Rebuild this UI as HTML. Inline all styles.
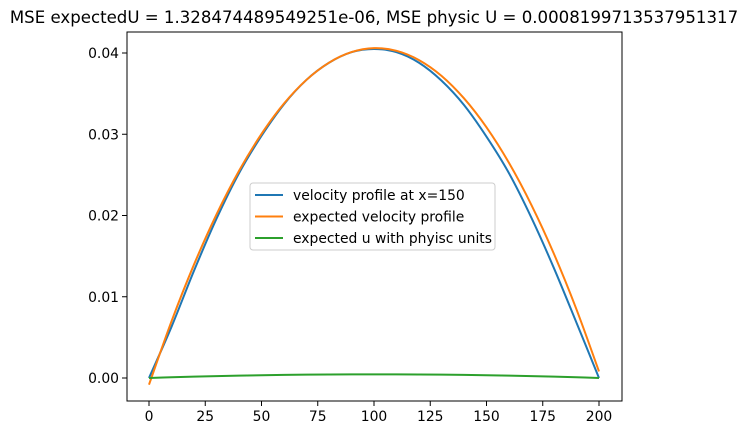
<!DOCTYPE html>
<html><head><meta charset="utf-8"><style>
body{margin:0;background:#fff;}
svg{display:block;font-family:"DejaVu Sans","Liberation Sans",sans-serif;}
</style></head><body>
<svg id="chart" width="747" height="435" viewBox="0 0 747 435"></svg>
<script>
const xValues=[0,10,20,30,40,50,60,70,80,90,100,110,120,130,140,150,160,170,180,190,200];
const bluePoints=[0,0.0063,0.0132,0.0196,0.0252,0.0298,0.0337,0.0367,0.0388,0.0401,0.0405,0.0401,0.0388,0.0366,0.0336,0.0297,0.0252,0.0197,0.0135,0.0068,0];
const orangePoints=[-0.00082,0.00698,0.01396,0.02013,0.02549,0.03004,0.03378,0.0367,0.03881,0.04011,0.0406,0.04027,0.03913,0.03719,0.03442,0.03085,0.02647,0.02127,0.01526,0.00844,0.00081];
const greenPoints=[0,0.000086,0.000162,0.000229,0.000288,0.000338,0.000378,0.00041,0.000432,0.000446,0.00045,0.000446,0.000432,0.00041,0.000378,0.000338,0.000288,0.000229,0.000162,0.000086,0];
const xTicks=[0,25,50,75,100,125,150,175,200];
const yTicks=[0,0.01,0.02,0.03,0.04];
const yTickLabels=["0.00","0.01","0.02","0.03","0.04"];
const seriesNames=["velocity profile at x=150","expected velocity profile","expected u with phyisc units"];

const NS="http://www.w3.org/2000/svg";
const svg=document.getElementById('chart');
const L=127,R=622,T=32,B=401;
const sx=v=>149+(v/200)*(599-149);
const sy=v=>378-v*(378-53)/0.04;
function mk(tag,attrs,parent){const e=document.createElementNS(NS,tag);for(const k in attrs)e.setAttribute(k,attrs[k]);(parent||svg).appendChild(e);return e;}

const title=mk('text',{x:374,y:23,'text-anchor':'middle','font-size':'16.6'});


title.textContent="MSE expectedU = 1.328474489549251e-06, MSE physic U = 0.0008199713537951317";

xTicks.forEach(t=>{
  const l=mk('line',{x1:sx(t),x2:sx(t),y1:B,y2:B+5,stroke:'#000','stroke-width':1});
  
  
  const tx=mk('text',{x:sx(t),y:B+20,'text-anchor':'middle','font-size':'13.9'});
  
  
  tx.textContent=t;
});
yTicks.forEach((t,i)=>{
  const l=mk('line',{x1:L-5,x2:L,y1:sy(t),y2:sy(t),stroke:'#000','stroke-width':1});
  
  
  const tx=mk('text',{x:L-8,y:sy(t)+5,'text-anchor':'end','font-size':'13.9'});
  
  
  tx.textContent=yTickLabels[i];
});

function smooth(pts){
  let d='M'+pts[0][0].toFixed(2)+','+pts[0][1].toFixed(2);
  for(let i=0;i<pts.length-1;i++){
    const p0=pts[Math.max(0,i-1)],p1=pts[i],p2=pts[i+1],p3=pts[Math.min(pts.length-1,i+2)];
    const c1x=p1[0]+(p2[0]-p0[0])/6,c1y=p1[1]+(p2[1]-p0[1])/6;
    const c2x=p2[0]-(p3[0]-p1[0])/6,c2y=p2[1]-(p3[1]-p1[1])/6;
    d+=' C'+c1x.toFixed(2)+','+c1y.toFixed(2)+' '+c2x.toFixed(2)+','+c2y.toFixed(2)+' '+p2[0].toFixed(2)+','+p2[1].toFixed(2);
  }
  return d;
}
const colors=['#1f77b4','#ff7f0e','#2ca02c'];
[bluePoints,orangePoints,greenPoints].forEach((arr,si)=>{
  const pts=arr.map((v,i)=>[sx(xValues[i]),sy(v)]);
  const p=mk('path',{d:smooth(pts),fill:'none',stroke:colors[si],'stroke-width':2,'stroke-linejoin':'round'});
  
  
});

const frame=mk('rect',{x:L,y:T,width:R-L,height:B-T,fill:'none',stroke:'#000','stroke-width':1});



const lg=mk('g',{});


mk('rect',{x:250,y:183,width:245,height:67,rx:3,fill:'#fff','fill-opacity':0.8,stroke:'#ccc','stroke-width':1},lg);
seriesNames.forEach((n,i)=>{
  const y=195+i*21.5;
  const g=mk('g',{},lg);
  
  
  mk('line',{x1:255,x2:283,y1:y,y2:y,stroke:colors[i],'stroke-width':2},g);
  const t=mk('text',{x:293,y:y+5,'font-size':'13.9'},g);
  t.textContent=n;
});
</script>
</body></html>
